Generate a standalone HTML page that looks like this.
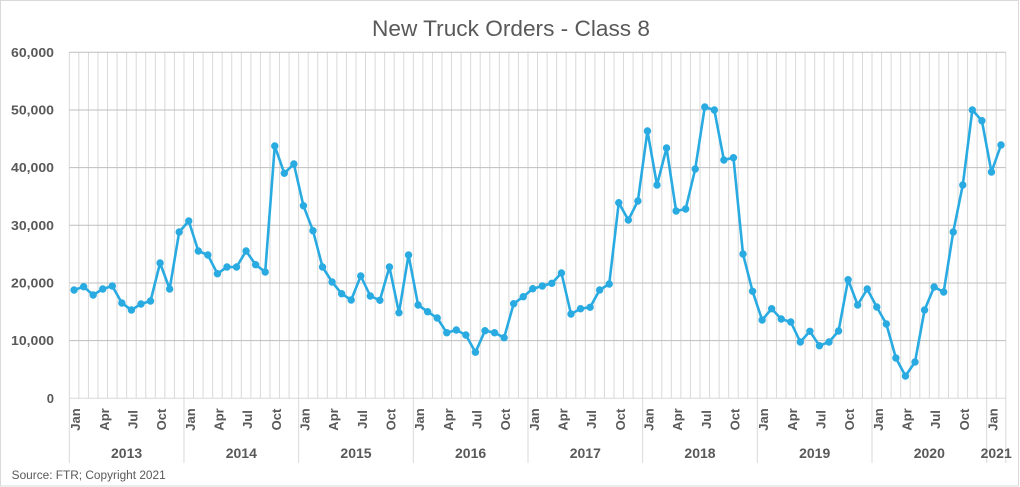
<!DOCTYPE html>
<html><head><meta charset="utf-8"><style>
html,body{margin:0;padding:0;background:#fff;}
svg{display:block;}
text{font-family:"Liberation Sans",Arial,sans-serif;fill:#595959;}
</style></head><body>
<svg width="1020" height="487" viewBox="0 0 1020 487" xmlns="http://www.w3.org/2000/svg">
<rect x="0.5" y="0.5" width="1018" height="485.5" fill="#fff" stroke="#d9d9d9" stroke-width="1"/>
<text x="511" y="36" font-size="22" text-anchor="middle" textLength="278" lengthAdjust="spacingAndGlyphs">New Truck Orders - Class 8</text>
<!-- vertical gridlines -->
<path fill="none" stroke="#d9d9d9" stroke-width="1" d="M69.3 52.3v346
m9.556-346v346m9.556-346v346m9.556-346v346m9.556-346v346m9.556-346v346m9.556-346v346m9.556-346v346m9.556-346v346m9.556-346v346m9.556-346v346
m9.556-346v346m9.556-346v346m9.556-346v346m9.556-346v346m9.556-346v346m9.556-346v346m9.556-346v346m9.556-346v346m9.556-346v346m9.556-346v346
m9.556-346v346m9.556-346v346m9.556-346v346m9.556-346v346m9.556-346v346m9.556-346v346m9.556-346v346m9.556-346v346m9.556-346v346m9.556-346v346
m9.556-346v346m9.556-346v346m9.556-346v346m9.556-346v346m9.556-346v346m9.556-346v346m9.556-346v346m9.556-346v346m9.556-346v346m9.556-346v346
m9.556-346v346m9.556-346v346m9.556-346v346m9.556-346v346m9.556-346v346m9.556-346v346m9.556-346v346m9.556-346v346m9.556-346v346m9.556-346v346
m9.556-346v346m9.556-346v346m9.556-346v346m9.556-346v346m9.556-346v346m9.556-346v346m9.556-346v346m9.556-346v346m9.556-346v346m9.556-346v346
m9.556-346v346m9.556-346v346m9.556-346v346m9.556-346v346m9.556-346v346m9.556-346v346m9.556-346v346m9.556-346v346m9.556-346v346m9.556-346v346
m9.556-346v346m9.556-346v346m9.556-346v346m9.556-346v346m9.556-346v346m9.556-346v346m9.556-346v346m9.556-346v346m9.556-346v346m9.556-346v346
m9.556-346v346m9.556-346v346m9.556-346v346m9.556-346v346m9.556-346v346m9.556-346v346m9.556-346v346m9.556-346v346m9.556-346v346m9.556-346v346
m9.556-346v346m9.556-346v346m9.556-346v346m9.556-346v346m9.556-346v346m9.556-346v346m9.556-346v346m9.556-346v346"/>
<!-- horizontal gridlines -->
<path fill="none" stroke="#bfbfbf" stroke-width="1" d="M69.3 52.3H1005.8M69.3 110H1005.8M69.3 167.6H1005.8M69.3 225.3H1005.8M69.3 283H1005.8M69.3 340.6H1005.8"/>
<path fill="none" stroke="#d9d9d9" stroke-width="1" d="M69.3 398.3H1005.8"/>
<!-- category separators -->
<path fill="none" stroke="#d9d9d9" stroke-width="1" d="M69.3 398.3V463M183.97 398.3V463M298.64 398.3V463M413.31 398.3V463M527.98 398.3V463M642.65 398.3V463M757.32 398.3V463M871.99 398.3V463M986.66 398.3V463M1005.78 398.3V463"/>
<!-- y labels -->
<g font-size="13" font-weight="bold" text-anchor="end">
<text x="54" y="56.8" textLength="43" lengthAdjust="spacingAndGlyphs">60,000</text>
<text x="54" y="114.5" textLength="43" lengthAdjust="spacingAndGlyphs">50,000</text>
<text x="54" y="172.1" textLength="43" lengthAdjust="spacingAndGlyphs">40,000</text>
<text x="54" y="229.8" textLength="43" lengthAdjust="spacingAndGlyphs">30,000</text>
<text x="54" y="287.5" textLength="43" lengthAdjust="spacingAndGlyphs">20,000</text>
<text x="54" y="345.1" textLength="43" lengthAdjust="spacingAndGlyphs">10,000</text>
<text x="54" y="402.8">0</text>
</g>
<!-- month labels -->
<g font-size="13" font-weight="bold" text-anchor="middle">
<text transform="translate(80.1 419.5) rotate(-90)">Jan</text>
<text transform="translate(108.75 419.5) rotate(-90)">Apr</text>
<text transform="translate(137.42 419.5) rotate(-90)">Jul</text>
<text transform="translate(166.08 419.5) rotate(-90)">Oct</text>
<text transform="translate(194.75 419.5) rotate(-90)">Jan</text>
<text transform="translate(223.42 419.5) rotate(-90)">Apr</text>
<text transform="translate(252.09 419.5) rotate(-90)">Jul</text>
<text transform="translate(280.76 419.5) rotate(-90)">Oct</text>
<text transform="translate(309.42 419.5) rotate(-90)">Jan</text>
<text transform="translate(338.09 419.5) rotate(-90)">Apr</text>
<text transform="translate(366.76 419.5) rotate(-90)">Jul</text>
<text transform="translate(395.43 419.5) rotate(-90)">Oct</text>
<text transform="translate(424.1 419.5) rotate(-90)">Jan</text>
<text transform="translate(452.76 419.5) rotate(-90)">Apr</text>
<text transform="translate(481.43 419.5) rotate(-90)">Jul</text>
<text transform="translate(510.1 419.5) rotate(-90)">Oct</text>
<text transform="translate(538.77 419.5) rotate(-90)">Jan</text>
<text transform="translate(567.44 419.5) rotate(-90)">Apr</text>
<text transform="translate(596.1 419.5) rotate(-90)">Jul</text>
<text transform="translate(624.77 419.5) rotate(-90)">Oct</text>
<text transform="translate(653.44 419.5) rotate(-90)">Jan</text>
<text transform="translate(682.11 419.5) rotate(-90)">Apr</text>
<text transform="translate(710.78 419.5) rotate(-90)">Jul</text>
<text transform="translate(739.44 419.5) rotate(-90)">Oct</text>
<text transform="translate(768.11 419.5) rotate(-90)">Jan</text>
<text transform="translate(796.78 419.5) rotate(-90)">Apr</text>
<text transform="translate(825.45 419.5) rotate(-90)">Jul</text>
<text transform="translate(854.12 419.5) rotate(-90)">Oct</text>
<text transform="translate(882.78 419.5) rotate(-90)">Jan</text>
<text transform="translate(911.45 419.5) rotate(-90)">Apr</text>
<text transform="translate(940.12 419.5) rotate(-90)">Jul</text>
<text transform="translate(968.79 419.5) rotate(-90)">Oct</text>
<text transform="translate(997.46 419.5) rotate(-90)">Jan</text>
</g>
<!-- year labels -->
<g font-size="14" font-weight="bold" text-anchor="middle">
<text x="126.6" y="458">2013</text>
<text x="241.3" y="458">2014</text>
<text x="356" y="458">2015</text>
<text x="470.6" y="458">2016</text>
<text x="585.3" y="458">2017</text>
<text x="700" y="458">2018</text>
<text x="814.7" y="458">2019</text>
<text x="929.3" y="458">2020</text>
<text x="996.2" y="458">2021</text>
</g>
<text x="11.7" y="479" font-size="11.5" textLength="154" lengthAdjust="spacingAndGlyphs">Source: FTR; Copyright 2021</text>
<!-- series -->
<polyline fill="none" stroke="#29abe2" stroke-width="2.6" stroke-linejoin="round" points="74.08,290 83.64,286.7 93.19,295 102.75,289 112.30,286 121.86,303 131.42,310 140.97,304 150.53,301 160.08,263 169.64,289 179.20,232 188.75,221 198.31,251 207.86,255 217.42,273.7 226.98,267 236.53,267 246.09,251 255.64,264.7 265.20,272 274.76,146 284.31,173.3 293.87,164 303.42,205.7 312.98,230.7 322.54,267 332.09,282 341.65,293.7 351.20,300 360.76,276 370.32,296 379.87,300.3 389.43,267 398.98,312.7 408.54,255 418.10,305 427.65,311.7 437.21,318 446.76,332.7 456.32,330 465.88,335 475.43,352.3 484.99,330.7 494.54,332.7 504.10,337.7 513.66,303.7 523.21,296.7 532.77,288.7 542.32,286 551.88,283.3 561.44,273 570.99,314 580.55,308.7 590.10,307.3 599.66,290 609.22,284 618.77,202.7 628.33,220 637.88,201 647.44,131 657.00,185 666.55,148 676.11,211 685.66,209 695.22,169 704.78,107 714.33,110 723.89,160 733.44,157.7 743.00,254 752.56,291.3 762.11,320 771.67,308.7 781.22,319 790.78,322 800.34,342 809.89,331.3 819.45,345.7 829.00,342 838.56,331 848.12,279.7 857.67,305 867.23,289 876.78,307 886.34,324 895.90,358 905.45,376 915.01,362 924.56,310 934.12,287 943.68,292 953.23,232 962.79,185 972.34,110 981.90,120.7 991.46,172 1001.01,145"/>
<path fill="none" stroke="#29abe2" stroke-width="7.4" stroke-linecap="round" d="M74.08 290h0M83.64 286.7h0M93.19 295h0M102.75 289h0M112.30 286h0M121.86 303h0M131.42 310h0M140.97 304h0M150.53 301h0M160.08 263h0M169.64 289h0M179.20 232h0M188.75 221h0M198.31 251h0M207.86 255h0M217.42 273.7h0M226.98 267h0M236.53 267h0M246.09 251h0M255.64 264.7h0M265.20 272h0M274.76 146h0M284.31 173.3h0M293.87 164h0M303.42 205.7h0M312.98 230.7h0M322.54 267h0M332.09 282h0M341.65 293.7h0M351.20 300h0M360.76 276h0M370.32 296h0M379.87 300.3h0M389.43 267h0M398.98 312.7h0M408.54 255h0M418.10 305h0M427.65 311.7h0M437.21 318h0M446.76 332.7h0M456.32 330h0M465.88 335h0M475.43 352.3h0M484.99 330.7h0M494.54 332.7h0M504.10 337.7h0M513.66 303.7h0M523.21 296.7h0M532.77 288.7h0M542.32 286h0M551.88 283.3h0M561.44 273h0M570.99 314h0M580.55 308.7h0M590.10 307.3h0M599.66 290h0M609.22 284h0M618.77 202.7h0M628.33 220h0M637.88 201h0M647.44 131h0M657.00 185h0M666.55 148h0M676.11 211h0M685.66 209h0M695.22 169h0M704.78 107h0M714.33 110h0M723.89 160h0M733.44 157.7h0M743.00 254h0M752.56 291.3h0M762.11 320h0M771.67 308.7h0M781.22 319h0M790.78 322h0M800.34 342h0M809.89 331.3h0M819.45 345.7h0M829.00 342h0M838.56 331h0M848.12 279.7h0M857.67 305h0M867.23 289h0M876.78 307h0M886.34 324h0M895.90 358h0M905.45 376h0M915.01 362h0M924.56 310h0M934.12 287h0M943.68 292h0M953.23 232h0M962.79 185h0M972.34 110h0M981.90 120.7h0M991.46 172h0M1001.01 145h0"/>
</svg>
</body></html>
